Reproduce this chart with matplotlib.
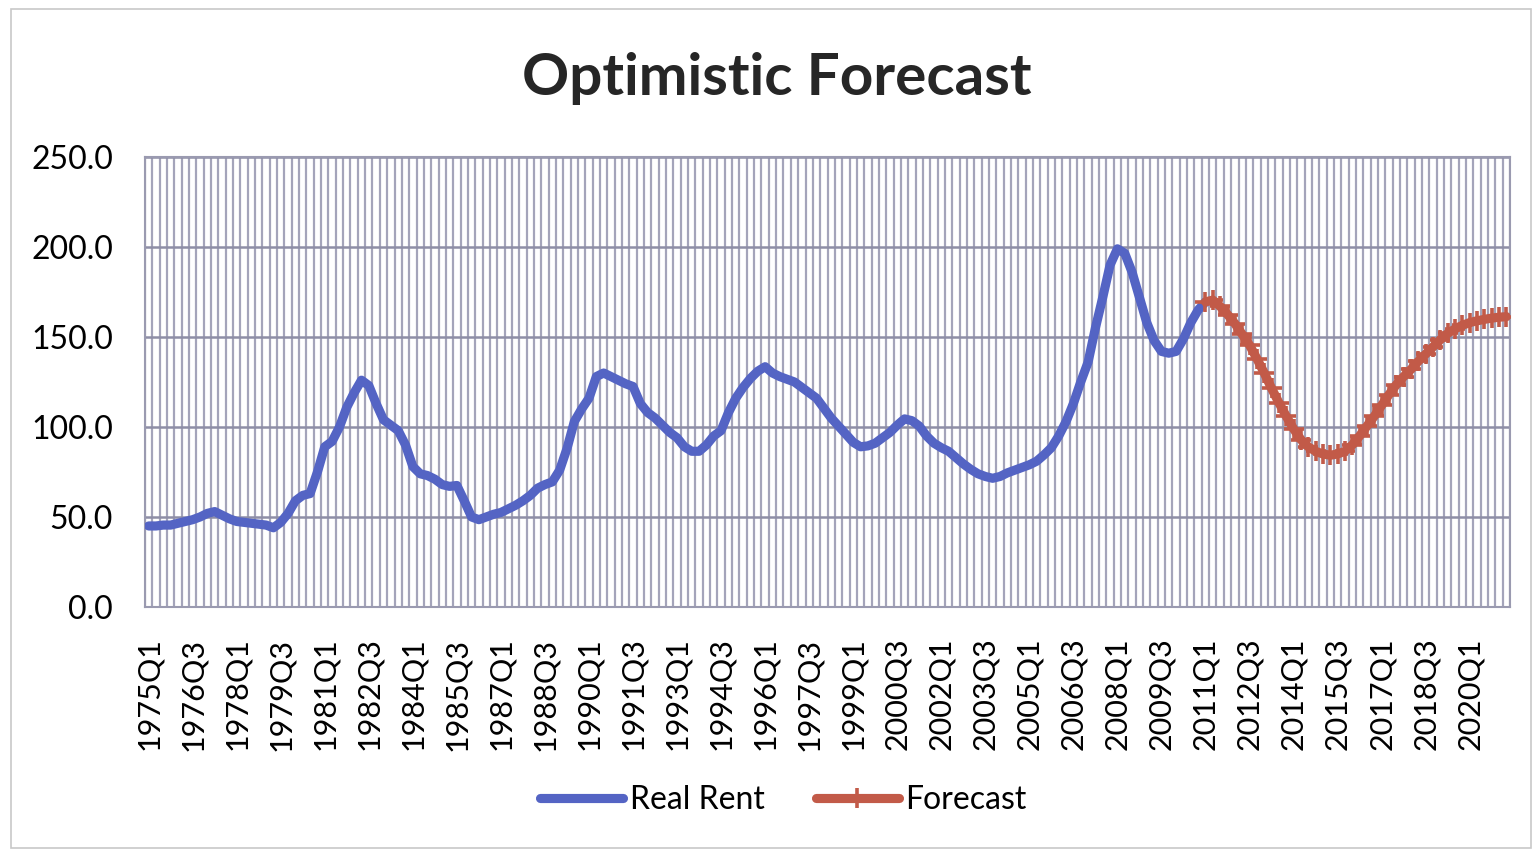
import matplotlib.pyplot as plt
import matplotlib.patches as mpatches
import numpy as np

plt.rcParams['font.family'] = ['Lato', 'DejaVu Sans']

# quarterly categories 1975Q1 .. 2021Q2
start_year = 1975
n_quarters = 186
quarters = [f"{start_year + i // 4}Q{i % 4 + 1}" for i in range(n_quarters)]

# Real Rent, 1975Q1 .. 2011Q1
real_rent = [
    45.0, 45.0, 45.5, 45.5, 46.5, 47.5, 48.5, 50.0, 52.0,
    53.0, 51.0, 49.0, 47.5, 47.0, 46.5, 46.0, 45.5, 44.0, 47.0,
    52.0, 59.0, 62.0, 63.0, 75.0, 89.0, 92.0, 100.0, 111.0, 119.0,
    126.0, 123.0, 113.0, 104.0, 101.0, 98.0, 90.0, 78.0, 74.0, 73.0,
    71.0, 68.0, 67.0, 67.5, 59.0, 50.0, 48.5, 50.0, 51.5, 52.5,
    54.5, 56.5, 59.0, 62.0, 66.0, 68.0, 69.5, 76.0, 88.0, 103.0,
    110.0, 116.0, 128.0, 130.0, 128.0, 126.0, 124.0, 122.5, 113.0, 108.0,
    105.0, 101.0, 97.0, 94.0, 89.0, 86.5, 86.5, 90.0, 95.0, 98.0,
    108.0, 116.0, 122.0, 127.0, 131.0, 133.5, 130.0, 128.0, 126.5, 125.0,
    122.0, 119.0, 116.0, 110.5, 105.0, 100.5, 96.0, 91.5, 89.0, 89.5,
    91.0, 94.0, 97.0, 101.0, 104.5, 103.5, 100.5, 95.0, 91.0, 88.5,
    86.5, 83.0, 79.5, 76.5, 74.0, 72.5, 71.5, 72.5, 74.5, 76.0,
    77.5, 79.0, 81.0, 84.5, 88.5, 95.0, 103.0, 113.0, 125.0, 136.0,
    155.0, 172.0, 190.0, 199.0, 196.5, 186.0, 172.0, 158.0, 148.0, 142.0,
    141.0, 142.0, 149.0, 158.0, 165.0, 169.5,
]

# Forecast, 2011Q1 .. 2021Q2
forecast = [
    169.5, 170.5, 167.0, 162.5, 157.5, 151.5, 145.5, 138.0, 130.0, 121.5,
    113.5, 106.0, 99.0, 93.0, 89.0, 86.5, 85.0, 84.3, 85.0, 86.5,
    90.0, 95.0, 100.5, 106.0, 112.0, 118.0, 123.5, 128.0, 132.0, 136.5,
    140.5, 144.5, 148.5, 152.0, 154.5, 156.5, 158.0, 159.0, 159.8, 160.5,
    161.0, 161.3,
]

x_real = np.arange(len(real_rent))
x_fc = np.arange(n_quarters - len(forecast), n_quarters)

fig = plt.figure(figsize=(15.39, 8.52), dpi=100)
ax = fig.add_axes([0.0942, 0.2876, 0.8870, 0.5281])

ax.plot(x_real, real_rent, color='#5464c4', lw=6.6, solid_capstyle='round',
        solid_joinstyle='round', label='Real Rent', zorder=3)
ax.plot(x_fc, forecast, color='#c25a48', lw=6.6, marker='+', markersize=15,
        markeredgewidth=2.6, solid_capstyle='round', label='Forecast', zorder=4)

ax.set_xlim(-0.5, n_quarters - 0.5)
ax.set_ylim(0, 250)
ax.set_yticks(np.arange(0, 251, 50))
ax.set_yticklabels([f"{v:.1f}" for v in np.arange(0, 251, 50)], fontsize=23)

ax.set_xticks(np.arange(0, n_quarters, 6))
ax.set_xticklabels(quarters[::6], rotation=90, fontsize=22)
ax.set_xticks(np.arange(n_quarters + 1) - 0.5, minor=True)
ax.tick_params(axis='both', which='both', length=0)
ax.tick_params(axis='x', pad=22)
ax.tick_params(axis='y', pad=23)

ax.grid(True, axis='x', which='minor', color='#a4a4ba', lw=1.6)
ax.grid(False, axis='x', which='major')
ax.grid(True, axis='y', which='major', color='#8e8ea6', lw=1.8)
ax.set_axisbelow(True)
for s in ax.spines.values():
    s.set_color('#9a9ab0')
    s.set_linewidth(1.5)

fig.text(0.505, 0.908, 'Optimistic Forecast', ha='center', va='center',
         fontsize=42, fontweight='bold', color='#262626')

fig.legend(loc='center', bbox_to_anchor=(0.509, 0.061), ncol=2, frameon=False,
           fontsize=23, handlelength=2.6, numpoints=1, columnspacing=1.6,
           handletextpad=0.2)

# light outer chart border
fig.patches.append(mpatches.Rectangle((0.007, 0.005), 0.988, 0.985, transform=fig.transFigure,
                                      fill=False, edgecolor='#c8c8c8', lw=1.2))

fig.savefig('out.png', dpi=100)
